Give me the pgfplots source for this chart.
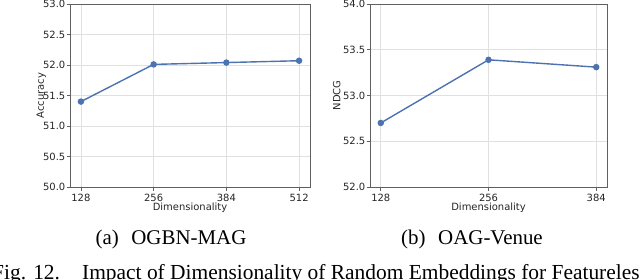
\documentclass[border=0pt]{standalone}
\usepackage{pgfplots}
\pgfplotsset{compat=1.18}
\usepackage{fontspec}
\setmainfont{Liberation Serif}
\newfontfamily\dejavu{DejaVu Sans}
\definecolor{lineblue}{HTML}{4C72B0}
\definecolor{gridgray}{HTML}{E0E0E0}
\definecolor{framegray}{HTML}{606060}
\definecolor{txtgray}{HTML}{262626}
\pgfplotsset{
  myaxis/.style={
    scale only axis,
    height=183bp,
    anchor=south west,
    axis line style={framegray, line width=0.8bp},
    grid=major,
    major grid style={gridgray, line width=0.6bp},
    tick align=outside,
    tick pos=left,
    major tick length=3.5bp,
    tick style={framegray, line width=0.8bp},
    /pgf/number format/assume math mode=true,
    tick label style={font=\dejavu\fontsize{10}{12}\selectfont, text=txtgray},
    label style={font=\dejavu\fontsize{10}{12}\selectfont, text=txtgray},
    yticklabel style={inner xsep=1bp},
    xtick=data,
    ytick distance=0.5,
    yticklabel style={/pgf/number format/.cd, fixed, fixed zerofill, precision=1},
    xlabel={Dimensionality},
    xlabel style={at={(axis description cs:0.5,-0.115)}, anchor=center},
  },
  myline/.style={lineblue, line width=1.4bp, mark=*, mark size=2.5bp, mark options={fill=lineblue, draw=lineblue, solid}},
}
\begin{document}
\begin{tikzpicture}[x=1bp,y=1bp]
\clip (0,0) rectangle (640,279);
\begin{axis}[myaxis, at={(70bp,92bp)}, width=240bp,
  xmin=108.8, xmax=531.2, ymin=50, ymax=53,
  xticklabels={128,256,384,512},
  ylabel={Accuracy},
  ylabel style={at={(axis description cs:-0.12,0.5)}, anchor=center}]
\addplot[myline] coordinates {(128,51.40) (256,52.01) (384,52.04) (512,52.07)};
\end{axis}
\begin{axis}[myaxis, at={(370bp,92bp)}, width=237bp,
  xmin=115.2, xmax=396.8, ymin=52, ymax=54,
  xticklabels={128,256,384},
  ylabel={NDCG},
  ylabel style={at={(axis description cs:-0.14,0.5)}, anchor=center}]
\addplot[myline] coordinates {(128,52.70) (256,53.39) (384,53.31)};
\end{axis}
\node[font=\fontsize{21}{25}\selectfont, anchor=center] at (171,40) {(a)\hspace{0.6em}OGBN-MAG};
\node[font=\fontsize{21}{25}\selectfont, anchor=center] at (472,40) {(b)\hspace{0.6em}OAG-Venue};
\node[font=\fontsize{21.5}{25}\selectfont, anchor=base west, inner sep=0pt] at (-8,0) {Fig. 12.};
\node[font=\fontsize{21.5}{25}\selectfont, anchor=base west, inner sep=0pt] at (82,0) {Impact of Dimensionality of Random Embeddings for Featureless};
\end{tikzpicture}
\end{document}
